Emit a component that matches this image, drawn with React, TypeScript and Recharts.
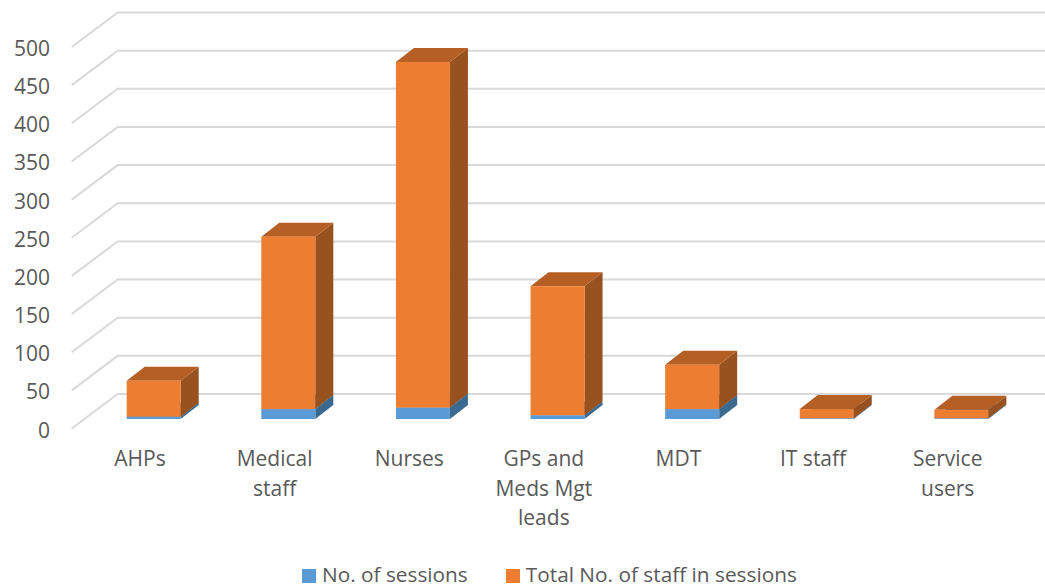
import { BarChart, Bar, XAxis, YAxis, CartesianGrid, Legend } from "recharts"

const categories = ["AHPs", "Medical staff", "Nurses", "GPs and Meds Mgt leads", "MDT", "IT staff", "Service users"]
const tickLines: Record<string, string[]> = {
  "Medical staff": ["Medical", "staff"],
  "GPs and Meds Mgt leads": ["GPs and", "Meds Mgt", "leads"],
  "Service users": ["Service", "users"],
}
const sessions = [3, 13, 15, 5, 13, 1, 1]
const staff = [47, 226, 453, 169, 58, 12, 11]
const yTicks = [0, 50, 100, 150, 200, 250, 300, 350, 400, 450, 500]

const data = categories.map((name, i) => ({ name, sessions: sessions[i], staff: staff[i] }))

const FONT = "'Open Sans', sans-serif"
const TEXT = "#595959"
const DX = 18
const DY = 14

const Box3D = (props: any) => {
  const { x, y, width, height, fill, sideFill, topFill } = props
  const r = x + width
  const b = y + height
  return (
    <g>
      <path d={`M${r} ${y}L${r + DX} ${y - DY}L${r + DX} ${b - DY}L${r} ${b}Z`} fill={sideFill} />
      <path d={`M${x} ${y}L${x + DX} ${y - DY}L${r + DX} ${y - DY}L${r} ${y}Z`} fill={topFill} />
      <rect x={x} y={y} width={width} height={height} fill={fill} />
    </g>
  )
}

const GridLine = (props: any) => {
  const { y1, x1, x2, index } = props
  return (
    <path
      key={index}
      d={`M${x1 - 15} ${y1 + 9.5}L${x1 + 31} ${y1 - 25}L${x2 + 16} ${y1 - 25}`}
      fill="none"
      stroke="#D9D9D9"
      strokeWidth={2}
    />
  )
}

const YTick = ({ y, payload }: any) => (
  <text x={50} y={y + 18.5} textAnchor="end" fontFamily={FONT} fontSize={21} fill={TEXT}>
    {payload.value}
  </text>
)

const XTick = ({ x, payload }: any) => {
  const lines = tickLines[payload.value] || [payload.value]
  return (
    <text textAnchor="middle" fontFamily={FONT} fontSize={21} fill={TEXT}>
      {lines.map((line: string, i: number) => (
        <tspan key={line} x={x - 14} y={466 + i * 29.5}>
          {line}
        </tspan>
      ))}
    </text>
  )
}

const LegendBox = ({ payload }: any) => (
  <div style={{ display: "flex", paddingTop: 8, paddingLeft: 302, fontFamily: FONT, fontSize: 20.8, color: TEXT, lineHeight: "22px" }}>
    {(payload || []).map((item: any) => (
      <span key={item.value} style={{ display: "flex", alignItems: "center", marginRight: 38 }}>
        <span style={{ width: 14, height: 14, background: item.color, marginRight: 6, marginTop: 4 }} />
        {item.value}
      </span>
    ))}
  </div>
)

export default function App() {
  return (
    <div style={{ position: "absolute", left: 0, top: 0, width: 1045, height: 585, background: "#fff" }}>
      <BarChart width={1045} height={585} data={data} margin={{ top: 37.5, right: 16, left: 0, bottom: 0 }}>
        <CartesianGrid vertical={false} horizontal={GridLine as any} />
        <XAxis dataKey="name" axisLine={false} tickLine={false} height={136} interval={0} tick={XTick as any} />
        <YAxis domain={[0, 500]} ticks={yTicks} width={86.7} axisLine={false} tickLine={false} tick={YTick as any} />
        <Legend height={30} wrapperStyle={{ left: 0, width: 1045 }} content={LegendBox as any} />
        <Bar
          dataKey="sessions"
          name="No. of sessions"
          stackId="a"
          barSize={54}
          fill="#5B9BD5"
          isAnimationActive={false}
          shape={(p: any) => <Box3D {...p} sideFill="#3A6A90" topFill="#46769F" />}
        />
        <Bar
          dataKey="staff"
          name="Total No. of staff in sessions"
          stackId="a"
          barSize={54}
          fill="#ED7D31"
          isAnimationActive={false}
          shape={(p: any) => <Box3D {...p} sideFill="#98521F" topFill="#B55F25" />}
        />
      </BarChart>
    </div>
  )
}
